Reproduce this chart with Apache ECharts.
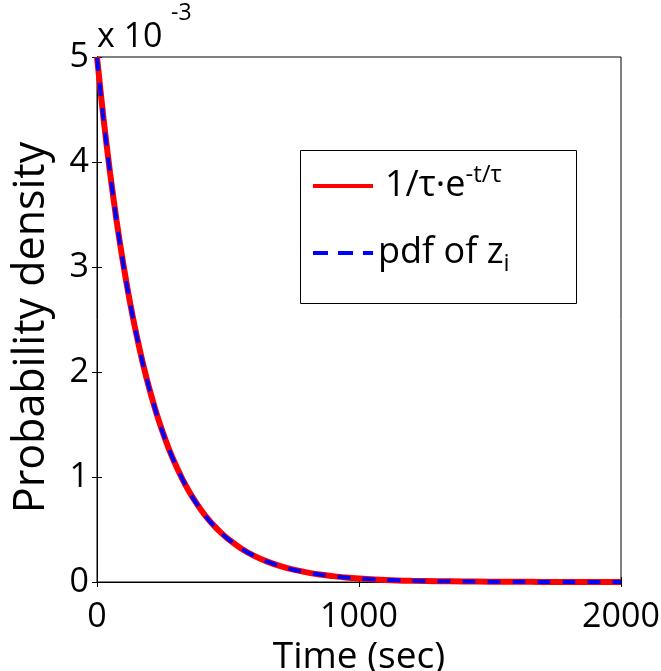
<!DOCTYPE html>
<html>
<head>
<meta charset="utf-8">
<script src="https://cdn.jsdelivr.net/npm/echarts@6/dist/echarts.min.js"></script>
<style>
html,body{margin:0;padding:0;background:#fff;}
#chart{width:661px;height:671px;}
</style>
</head>
<body>
<div id="chart"></div>
<script>
// Time axis (sec)
var timeSec = [0,25,50,75,100,125,150,175,200,225,250,275,300,325,350,375,400,425,450,475,500,550,600,650,700,750,800,850,900,950,1000,1100,1200,1300,1400,1500,1600,1700,1800,1900,2000];
// Analytical density 1/tau*exp(-t/tau), in units of 1e-3
var analyticVals = [5.000,4.412,3.894,3.436,3.033,2.676,2.362,2.084,1.839,1.623,1.433,1.264,1.116,0.985,0.869,0.767,0.677,0.597,0.527,0.465,0.410,0.320,0.249,0.194,0.151,0.118,0.092,0.071,0.056,0.043,0.034,0.020,0.012,0.008,0.005,0.003,0.002,0.001,0.001,0.000,0.000];
// Empirical pdf of z_i, in units of 1e-3
var pdfZVals = [4.990,4.405,3.890,3.430,3.030,2.672,2.360,2.080,1.838,1.620,1.430,1.262,1.115,0.984,0.868,0.766,0.676,0.596,0.526,0.464,0.410,0.319,0.249,0.193,0.151,0.117,0.092,0.071,0.055,0.043,0.033,0.020,0.012,0.008,0.005,0.003,0.002,0.001,0.001,0.000,0.000];
var xTicks = [0, 1000, 2000];
var yTicks = [0, 1, 2, 3, 4, 5];
var seriesNames = ['analytic', 'pdfz'];

function pairs(xs, ys){ return xs.map(function(x,i){ return [x, ys[i]]; }); }

var FONT = '"Open Sans", "Noto Sans", sans-serif';
var chart = echarts.init(document.getElementById('chart'), null, {renderer:'canvas'});
var axisColor = '#000';
var plain = function(v){ return String(v); };

var option = {
  backgroundColor: '#fff',
  animation: false,
  grid: {left: 97, right: 40, top: 57, bottom: 89, show: true, borderColor: axisColor, borderWidth: 1, backgroundColor: '#fff', containLabel: false, outerBoundsMode: 'none'},
  xAxis: [{
    type: 'value', min: xTicks[0], max: xTicks[xTicks.length-1], interval: xTicks[1]-xTicks[0],
    position: 'bottom',
    name: 'Time (sec)', nameLocation: 'middle', nameGap: 46,
    nameTextStyle: {fontFamily: FONT, fontSize: 37, color: '#000'},
    axisLine: {show: true, lineStyle: {color: axisColor, width: 1}},
    axisTick: {show: true, inside: true, length: 5, lineStyle: {color: axisColor}},
    axisLabel: {fontFamily: FONT, fontSize: 34, color: '#000', margin: 18, formatter: plain},
    splitLine: {show: false}
  },{
    type: 'value', min: xTicks[0], max: xTicks[xTicks.length-1], interval: xTicks[1]-xTicks[0],
    position: 'top',
    axisLine: {show: true, lineStyle: {color: axisColor, width: 1}},
    axisTick: {show: true, inside: true, length: 5, lineStyle: {color: axisColor}},
    axisLabel: {show: false}, splitLine: {show: false}
  }],
  yAxis: [{
    type: 'value', min: yTicks[0], max: yTicks[yTicks.length-1], interval: 1,
    position: 'left',
    name: 'Probability density', nameLocation: 'middle', nameGap: 44, nameRotate: 90,
    nameTextStyle: {fontFamily: FONT, fontSize: 43, color: '#000', padding: [0, 16, 0, 0]},
    axisLine: {show: true, lineStyle: {color: axisColor, width: 1}},
    axisTick: {show: true, inside: true, length: 5, lineStyle: {color: axisColor}},
    axisLabel: {fontFamily: FONT, fontSize: 34, color: '#000', margin: 8, formatter: plain},
    splitLine: {show: false}
  },{
    type: 'value', min: yTicks[0], max: yTicks[yTicks.length-1], interval: 1,
    position: 'right',
    axisLine: {show: true, lineStyle: {color: axisColor, width: 1}},
    axisTick: {show: true, inside: true, length: 5, lineStyle: {color: axisColor}},
    axisLabel: {show: false}, splitLine: {show: false}
  }],
  legend: [{
    data: [seriesNames[0]], orient: 'vertical', left: 311, top: 163, padding: 0,
    itemWidth: 60, itemHeight: 44, selectedMode: false,
    lineStyle: {width: 4, color: '#ff0000', type: 'solid'},
    formatter: function(){ return '{a|1/τ·e}{sup|-t/τ}'; },
    textStyle: {
      rich: {
        a: {fontFamily: FONT, fontSize: 36, color: '#000', lineHeight: 46, padding: [0,0,0,7]},
        sup: {fontFamily: FONT, fontSize: 24, color: '#000', lineHeight: 26, verticalAlign: 'top'}
      }
    }
  },{
    data: [seriesNames[1]], orient: 'vertical', left: 311, top: 235, padding: 0,
    itemWidth: 60, itemHeight: 44, selectedMode: false,
    lineStyle: {width: 4, color: '#0000ff', type: [15, 10]},
    formatter: function(){ return '{a|pdf of z}{sub|i}'; },
    textStyle: {
      rich: {
        a: {fontFamily: FONT, fontSize: 36, color: '#000', lineHeight: 46},
        sub: {fontFamily: FONT, fontSize: 24, color: '#000', lineHeight: 20, verticalAlign: 'bottom'}
      }
    }
  }],
  graphic: [
    {type: 'rect', left: 298, top: 148, shape: {width: 276, height: 153}, style: {fill: 'none', stroke: '#000', lineWidth: 1}, z: 5, silent: true},
    {type: 'text', left: 97, top: 20, style: {text: 'x 10', font: '34px "Open Sans", sans-serif', fill: '#000'}},
    {type: 'text', left: 171, top: 2, style: {text: '-3', font: '23px "Open Sans", sans-serif', fill: '#000'}}
  ],
  series: [{
    name: seriesNames[0], type: 'line', xAxisIndex: 0, yAxisIndex: 0,
    data: pairs(timeSec, analyticVals), showSymbol: false, symbol: 'circle', symbolSize: 0, smooth: 0.3,
    lineStyle: {color: '#ff0000', width: 6, type: 'solid'},
    itemStyle: {color: 'rgba(0,0,0,0)', borderWidth: 0}, z: 3
  },{
    name: seriesNames[1], type: 'line', xAxisIndex: 0, yAxisIndex: 0,
    data: pairs(timeSec, pdfZVals), showSymbol: false, symbol: 'circle', symbolSize: 0, smooth: 0.3,
    lineStyle: {color: '#0000ff', width: 4, type: [13, 12]},
    itemStyle: {color: 'rgba(0,0,0,0)', borderWidth: 0}, z: 4
  }]
};
chart.setOption(option);
</script>
</body>
</html>
